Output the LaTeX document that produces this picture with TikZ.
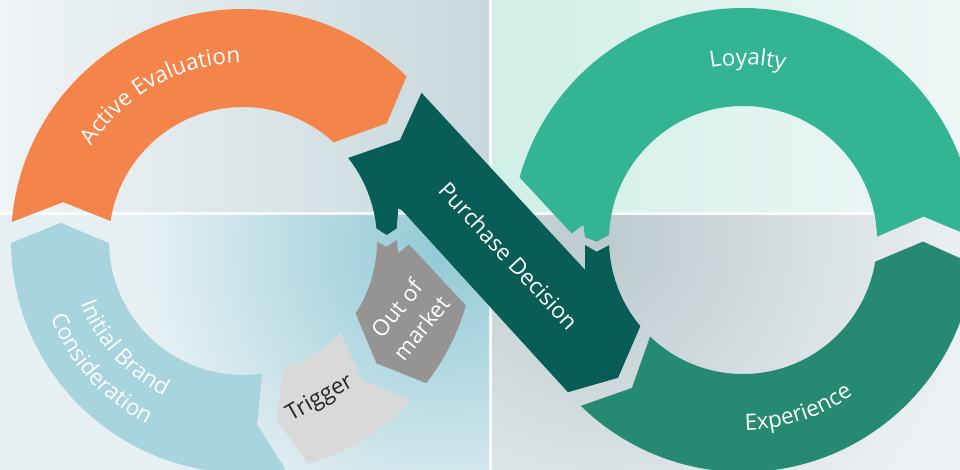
\documentclass[tikz,border=0pt]{standalone}
\usepackage{fontspec}
\setmainfont{Open Sans}
\usetikzlibrary{calc,decorations.text}
\definecolor{cOrange}{HTML}{F5844A}
\definecolor{cBlue}{HTML}{A8D4DE}
\definecolor{cTrig}{HTML}{D9D9D9}
\definecolor{cOut}{HTML}{969493}
\definecolor{cPD}{HTML}{085E56}
\definecolor{cLoy}{HTML}{33B594}
\definecolor{cExp}{HTML}{268A70}
\definecolor{cDark}{HTML}{262626}
\definecolor{bgBase}{HTML}{EEF3F5}
\definecolor{bgA}{HTML}{EFF4F6}
\definecolor{bgB}{HTML}{C8D8DB}
\definecolor{bgC}{HTML}{E6F0F3}
\definecolor{bgD}{HTML}{92CAD6}
\definecolor{bgE}{HTML}{D0EFE7}
\definecolor{bgF}{HTML}{EEF6F6}
\definecolor{bgG}{HTML}{EDF1F3}
\definecolor{bgH}{HTML}{BCCACE}
\newcommand\dfont{\fontsize{22.5}{31}\selectfont}
\tikzset{
  lbl/.style={font=\dfont, inner sep=0pt, text=white},
  arctext/.style={decorate, decoration={text along path, text align=center, text={|\dfont\color{white}|#1}}},
}
\begin{document}
\begin{tikzpicture}[x=1pt,y=-1pt]
\useasboundingbox (0,0) rectangle (960,470);
\coordinate (L) at (243,241);
\coordinate (R) at (743,240);
% ---------- background ----------
\fill[bgBase] (0,0) rectangle (960,470);
\shade[left color=bgA, right color=bgB] (0,0) rectangle (490,213);
\begin{scope}
  \clip (0,215) rectangle (490,470);
  \fill[bgC] (0,215) rectangle (490,470);
  \shade[inner color=bgD, outer color=bgC] (440,250) circle (300);
\end{scope}
\shade[left color=bgE, right color=bgF] (492,0) rectangle (960,213);
\begin{scope}
  \clip (492,216) rectangle (960,470);
  \fill[bgG] (492,216) rectangle (960,470);
  \shade[inner color=bgH, outer color=bgG] (600,240) circle (380);
\end{scope}
\fill[white, opacity=0.8] (489,0) rectangle (492,470);
\fill[white, opacity=0.8] (0,212.5) rectangle (960,215.5);
% ---------- left ring ----------
\fill[cOrange] ($(L)+(184.7:232)$) arc[start angle=184.7,end angle=314.8,radius=232]
   -- ($(L)+(320.7:186)$) -- ($(L)+(312.6:134)$)
   arc[start angle=312.6,end angle=188.6,radius=134] -- ($(L)+(192.2:184)$) -- cycle;
\fill[cBlue] ($(L)+(179.5:232)$) -- ($(L)+(185.7:183)$) -- ($(L)+(179.1:134)$)
   arc[start angle=179.1,end angle=81.8,radius=134] -- ($(L)+(85.6:184)$) -- ($(L)+(79.5:232)$)
   arc[start angle=79.5,end angle=179.5,radius=232] -- cycle;
\fill[cTrig] ($(L)+(72.4:134)$) -- ($(L)+(79.2:182)$) -- ($(L)+(73.8:232)$)
   arc[start angle=73.8,end angle=43.6,radius=232] -- ($(L)+(49.4:183)$) -- ($(L)+(43.2:134)$)
   arc[start angle=43.2,end angle=72.4,radius=134] -- cycle;
\begin{scope}
  \clip (135.2,-50) -- (665.4,520) -- (-50,520) -- (-50,-50) -- cycle;
  \fill[cOut] ($(L)+(0.3:134)$) -- (386.7,246.7) -- (396.7,240) -- (398.3,253.3) -- (423.3,232.6)
     -- ($(L)+(0:232)$) arc[start angle=0,end angle=37.8,radius=232] -- ($(L)+(42.5:181)$)
     -- ($(L)+(32.8:134)$) arc[start angle=32.8,end angle=0.3,radius=134] -- cycle;
\end{scope}
% ---------- right ring ----------
\begin{scope}
  \clip (308,-50) -- (838.3,520) -- (1010,520) -- (1010,-50) -- cycle;
  \fill[cLoy] ($(R)+(-0.5:232)$) arc[start angle=-0.5,end angle=-170,radius=232]
     -- (560.1,241.6) -- (583.3,225) -- (585,237.3) -- (596.7,241.7) -- ($(R)+(-177.8:134)$)
     arc[start angle=-177.8,end angle=-1.4,radius=134] -- ($(R)+(-7.4:182)$) -- cycle;
\end{scope}
\fill[cExp] ($(R)+(134.35:232)$) -- ($(R)+(126.9:185)$) -- ($(R)+(133.9:134)$)
   arc[start angle=133.9,end angle=9.3,radius=134] -- ($(R)+(0.5:180)$) -- ($(R)+(6:232)$)
   arc[start angle=6,end angle=134.35,radius=232] -- cycle;
% ---------- purchase decision band ----------
\fill[cPD] ($(L)+(-39.7:232)$) -- (585,269.8) -- (585,245) -- (596.7,251.7) -- ($(R)+(177.8:134)$)
   arc[start angle=177.8,end angle=140,radius=134] -- ($(R)+(132.2:186)$) -- ($(R)+(139:232)$)
   -- (401.7,210) -- (398.3,208.3) -- (396.7,228.3) -- (386.7,235) -- ($(L)+(-5.4:134)$)
   arc[start angle=-5.4,end angle=-38.3,radius=134] -- (400,140) -- cycle;
% ---------- labels ----------
\path[arctext={Active Evaluation}] ($(L)+(200.6:178)$) arc[start angle=200.6,end angle=280.6,radius=178];
\path[arctext={Initial Brand}] ($(L)+(178:174)$) arc[start angle=178,end angle=98,radius=174];
\path[arctext={Consideration}] ($(L)+(178:207)$) arc[start angle=178,end angle=98,radius=207];
\path[arctext={Loyalty}] ($(R)+(-118.5:175)$) arc[start angle=-118.5,end angle=-58.5,radius=175];
\path[arctext={Experience}] ($(R)+(106:190)$) arc[start angle=106,end angle=38,radius=190];
\node[lbl,text=cDark,rotate=29.6] (trig) at (320,399) {Trigger};
\node[lbl,rotate=51,align=center] (oom) at (409,318) {Out of\\market};
\node[lbl,rotate=-47] (pd) at (509,256) {Purchase Decision};
\end{tikzpicture}
\end{document}
